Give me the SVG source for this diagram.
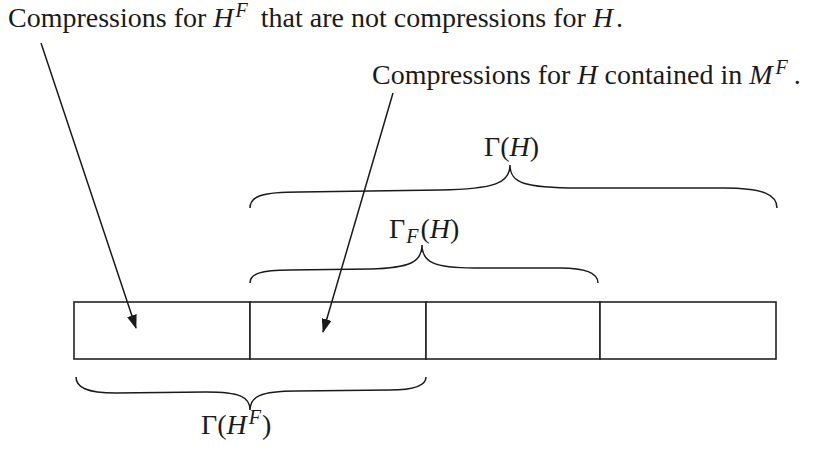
<svg xmlns="http://www.w3.org/2000/svg" width="817" height="455" viewBox="0 0 817 455">
<style>
text{font-family:"Liberation Serif","Times New Roman",serif;font-size:28px;fill:#1a1a1a}
.i{font-style:italic}
.s{font-size:20px;font-style:italic}
.box{fill:#fff;stroke:#222;stroke-width:1.6}
.brace{fill:none;stroke:#1a1a1a;stroke-width:1.5}
.arr{fill:none;stroke:#1a1a1a;stroke-width:1.5;marker-end:url(#ah)}
</style>
<defs>
<marker id="ah" markerWidth="14" markerHeight="10" refX="13" refY="5" orient="auto" markerUnits="userSpaceOnUse">
<path d="M0,0 L14,5 L0,10 Z" fill="#1a1a1a"/>
</marker>
</defs>
<g id="label-top-left">
<text x="8" y="27">Compressions for <tspan class="i">H</tspan><tspan class="s" dx="2" dy="-10">F</tspan><tspan dx="6" dy="10"> that are not compressions for </tspan><tspan class="i">H</tspan><tspan dx="3">.</tspan></text>
</g>
<g id="label-top-right">
<text x="372" y="84">Compressions for <tspan class="i">H</tspan> contained in <tspan class="i">M</tspan><tspan class="s" dx="3" dy="-10">F</tspan><tspan dx="6" dy="10">.</tspan></text>
</g>
<g id="cells">
<rect id="cell1" class="box" x="74" y="302" width="176" height="57"/>
<rect id="cell2" class="box" x="250" y="302" width="176" height="57"/>
<rect id="cell3" class="box" x="426" y="302" width="174" height="57"/>
<rect id="cell4" class="box" x="600" y="302" width="176" height="57"/>
</g>
<g id="brace-gammaH">
<path class="brace" d="M250,208 C250,196 262,192 300,192 L440,190 C495,189 510,183 510,165 C510,183 524,188 579,188 L724,188 C764,188 777,195 777,208"/>
<text x="484" y="156">Γ(<tspan class="i">H</tspan>)</text>
</g>
<g id="brace-gammaFH">
<path class="brace" d="M250,283 C250,274 260,270 290,270 L370,269 C410,268 422,262 422,245 C422,262 434,268 474,268 L560,268 C588,268 598,274 598,283"/>
<text x="389" y="238">Γ<tspan class="s" dx="1" dy="5">F</tspan><tspan dx="2" dy="-5">(</tspan><tspan class="i">H</tspan>)</text>
</g>
<g id="brace-gammaHF">
<path class="brace" d="M76,377 C76,387 86,393 116,393 L206,392 C240,392 250,397 250,410 C250,397 260,391 296,391 L390,390 C418,390 426,384 426,377"/>
<text x="201" y="434">Γ(<tspan class="i">H</tspan><tspan class="s" dx="2" dy="-10">F</tspan><tspan dx="1" dy="10">)</tspan></text>
</g>
<g id="connectors">
<line class="arr" x1="41" y1="43" x2="136" y2="328"/>
<line class="arr" x1="393" y1="93" x2="323" y2="332"/>
</g>
</svg>
